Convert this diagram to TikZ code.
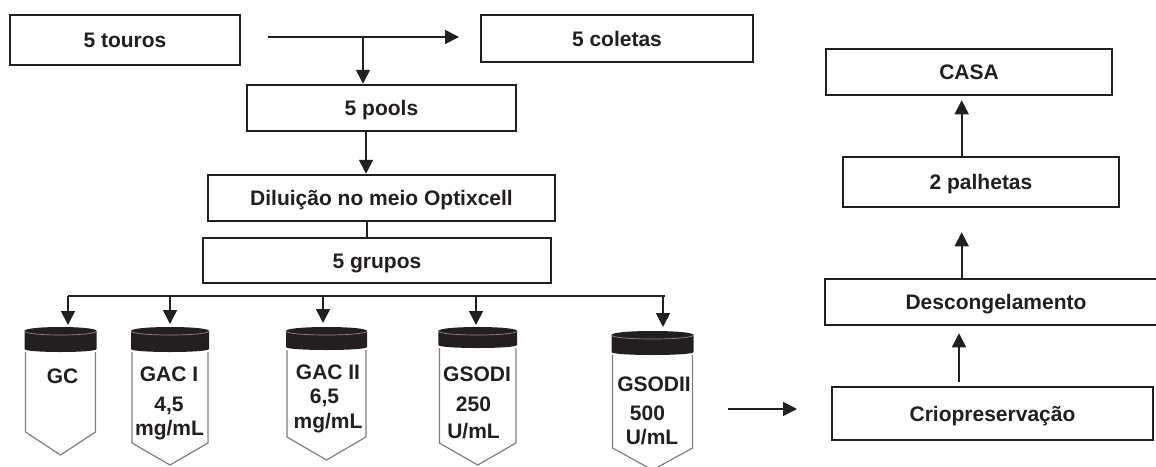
\documentclass[tikz,border=0pt]{standalone}
\usepackage{fontspec}
\setmainfont{Liberation Sans}
\usetikzlibrary{arrows.meta,calc}
\definecolor{ink}{HTML}{231F20}
\definecolor{tubegray}{HTML}{7F7F7F}
\definecolor{rimgray}{HTML}{8A8A8A}
\tikzset{
  box/.style={draw=ink, line width=2.5pt, inner sep=0pt, text=ink,
    font=\fontsize{21}{25}\selectfont\bfseries, text height=15pt, text depth=0pt, align=center},
  arr/.style={draw=ink, line width=1.6pt, -{Triangle[width=14pt,length=14pt]}},
  link/.style={draw=ink, line width=1.6pt},
  tlabel/.style={anchor=base, inner sep=0pt, text=ink, text height=15pt, text depth=0pt,
    font=\fontsize{21}{25}\selectfont\bfseries},
  tubeline/.style={draw=tubegray, line width=1.2pt, line join=miter},
  rimline/.style={draw=rimgray, line width=0.7pt},
}
% cx, half width, cap top, cap bottom, side bottom, point
\newcommand\tubepic[6]{%
  \draw[tubeline] (#1-#2,#4) -- (#1-#2,#5) -- (#1,#6) -- (#1+#2,#5) -- (#1+#2,#4);
  \fill[ink] (#1-#2-1,#3+4) -- (#1-#2-1,#4-3)
     .. controls (#1-#2-1,#4+1) and (#1+#2+1,#4+1) .. (#1+#2+1,#4-3)
     -- (#1+#2+1,#3+4)
     .. controls (#1+#2+1,#3-1.33) and (#1-#2-1,#3-1.33) .. cycle;
  \draw[rimline] (#1-#2-1,#3+4) .. controls (#1-#2-1,#3+9.33) and (#1+#2+1,#3+9.33) .. (#1+#2+1,#3+4);
}
\begin{document}
\begin{tikzpicture}[x=1pt,y=-1pt]
\useasboundingbox (0,0) rectangle (1156,466);
\clip (0,0) rectangle (1156,466);
\fill[white] (0,0) rectangle (1156,466);

% boxes
\node[box, minimum width=230pt, minimum height=50pt] (touros) at (125,40) {5 touros};
\node[box, minimum width=272pt, minimum height=47pt] (coletas) at (617,38.5) {5 coletas};
\node[box, minimum width=269pt, minimum height=46pt] (pools) at (381.5,108) {5 pools};
\node[box, minimum width=347pt, minimum height=46pt] (dil) at (381.5,198) {Diluição no meio Optixcell};
\node[box, minimum width=348pt, minimum height=45pt] (grupos) at (377,260.5) {5 grupos};
\node[box, minimum width=286pt, minimum height=46pt] (casa) at (969,72) {CASA};
\node[box, minimum width=276pt, minimum height=50pt] (pal) at (981,182) {2 palhetas};
\node[box, minimum width=342pt, minimum height=46pt] (desc) at (996,302) {Descongelamento};
\node[box, minimum width=321pt, minimum height=53pt] (crio) at (992.5,413.5) {Criopreservação};

% top connectors
\coordinate (a0) at (268,37);
\coordinate (a1) at (459,37);
\coordinate (b0) at (363,37);
\draw[arr] (a0) -- (a1);
\draw[arr] (b0) -- (pools.north -| b0);
\coordinate (c0) at (366,0);
\coordinate (c1) at (366.7,0);
\draw[arr] (pools.south -| c0) -- (dil.north -| c0);
\draw[link] (dil.south -| c1) -- (grupos.north -| c1);

% branch to tubes
\coordinate (d1) at (68,295.7);
\coordinate (d2) at (170,295.7);
\coordinate (d3) at (323,295.7);
\coordinate (d4) at (476,295.7);
\coordinate (d5) at (663,295.7);
\coordinate (hR) at (665,295.7);
\coordinate (t1) at (68,325);
\coordinate (t2) at (170,324);
\coordinate (t3) at (323,323);
\coordinate (t4) at (476,325);
\coordinate (t5) at (663,327);
\draw[link] (d1) -- (hR);
\draw[arr] (d1) -- (t1);
\draw[arr] (d2) -- (t2);
\draw[arr] (d3) -- (t3);
\draw[arr] (d4) -- (t4);
\draw[arr] (d5) -- (t5);

% tubes
\tubepic{60.5}{35}{327}{352}{432}{455}
\tubepic{170}{38}{327}{352}{443}{465}
\tubepic{326.5}{39.5}{327}{350}{437}{460}
\tubepic{477.7}{38.3}{327}{348}{443}{465}
\tubepic{652.5}{40}{331}{355}{448}{470}

% tube labels
\node[tlabel] (gc) at (62.5,383.5) {GC};
\node[tlabel] (gac1a) at (169,381.5) {GAC I};
\node[tlabel] (gac1b) at (169,411.5) {4,5};
\node[tlabel] (gac1c) at (169.5,435.5) {mg/mL};
\node[tlabel] (gac2a) at (328,379) {GAC II};
\node[tlabel] (gac2b) at (324.5,403) {6,5};
\node[tlabel] (gac2c) at (328,428) {mg/mL};
\node[tlabel] (sod1a) at (477,381.5) {GSODI};
\node[tlabel] (sod1b) at (473.5,411.5) {250};
\node[tlabel] (sod1c) at (473.5,438) {U/mL};
\node[tlabel] (sod2a) at (654,391) {GSODII};
\node[tlabel] (sod2b) at (647.5,420) {500};
\node[tlabel] (sod2c) at (652,444) {U/mL};

% to cryopreservation
\coordinate (q0) at (728,409);
\coordinate (q1) at (797,409);
\draw[arr] (q0) -- (q1);

% right column
\coordinate (rx) at (961.7,0);
\coordinate (rx2) at (959,0);
\draw[arr, shorten >=4pt] (pal.north -| rx) -- (casa.south -| rx);
\draw[arr, shorten >=24pt] (desc.north -| rx) -- (pal.south -| rx);
\draw[arr, shorten <=4pt, shorten >=7pt] (crio.north -| rx2) -- (desc.south -| rx2);
\end{tikzpicture}
\end{document}
